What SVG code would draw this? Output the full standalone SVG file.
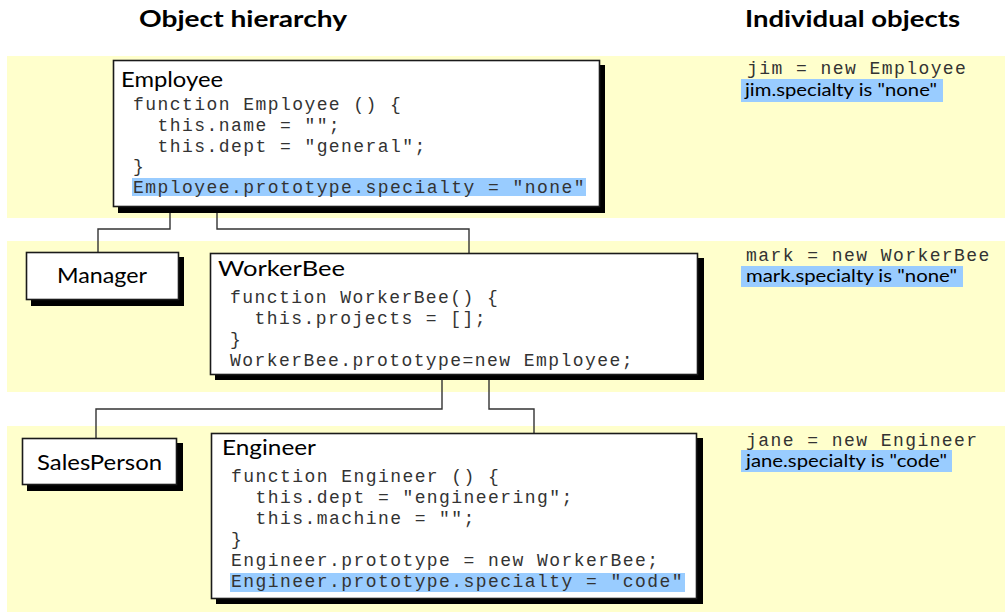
<svg xmlns="http://www.w3.org/2000/svg" width="1005" height="612" viewBox="0 0 1005 612">
<style>
.band{fill:#FFFFCC}
.box{fill:#FFFFFF;stroke:#1a1a1a;stroke-width:1.6}
.shadow{fill:#000000}
.hl{fill:#99CCFF}
.head{font-family:Lato,"Open Sans","Liberation Sans",sans-serif;font-weight:bold;font-size:22px;fill:#000}
.title{font-family:Lato,"Open Sans","Liberation Sans",sans-serif;font-size:21px;fill:#000}
.lbl{font-family:Lato,"Open Sans","Liberation Sans",sans-serif;font-size:18px;fill:#000}
.code{font-family:"Liberation Mono","DejaVu Sans Mono",monospace;font-size:18px;letter-spacing:1.44px;fill:#333}
.conn{fill:none;stroke:#333;stroke-width:1.4}
</style>
<rect width="1005" height="612" fill="#FFFFFF"/>
<g id="bands">
<rect class="band" x="7" y="56" width="998" height="162"/>
<rect class="band" x="7" y="241" width="998" height="151"/>
<rect class="band" x="7" y="426" width="998" height="186"/>
</g>
<g id="headers">
<text class="head" x="139" y="27" textLength="208" lengthAdjust="spacingAndGlyphs">Object hierarchy</text>
<text class="head" x="745" y="27" textLength="215" lengthAdjust="spacingAndGlyphs">Individual objects</text>
</g>
<g id="connectors">
<polyline class="conn" points="170,207 170,229 98,229 98,252"/>
<polyline class="conn" points="217,207 217,229 469,229 469,253"/>
<polyline class="conn" points="442,375 442,409 96,409 96,438"/>
<polyline class="conn" points="489,375 489,409 534,409 534,433"/>
</g>
<g id="employee">
<rect class="shadow" x="118" y="65" width="487" height="148"/>
<rect class="box" x="113.5" y="60.5" width="486" height="146"/>
<rect class="hl" x="132" y="178" width="454" height="18"/>
<text class="title" x="121" y="87" textLength="102" lengthAdjust="spacingAndGlyphs">Employee</text>
<text class="code" x="133" y="110" xml:space="preserve">function Employee () {</text>
<text class="code" x="133" y="131" xml:space="preserve">  this.name = "";</text>
<text class="code" x="133" y="152" xml:space="preserve">  this.dept = "general";</text>
<text class="code" x="133" y="172">}</text>
<text class="code" x="133" y="193" xml:space="preserve">Employee.prototype.specialty = "none"</text>
</g>
<g id="manager">
<rect class="shadow" x="31" y="257" width="153" height="49"/>
<rect class="box" x="26.5" y="252.5" width="152" height="47"/>
<text class="title" x="102" y="283" text-anchor="middle" textLength="90" lengthAdjust="spacingAndGlyphs">Manager</text>
</g>
<g id="workerbee">
<rect class="shadow" x="215" y="258" width="489" height="122"/>
<rect class="box" x="210.5" y="253.5" width="487" height="121"/>
<text class="title" x="218" y="276" textLength="127" lengthAdjust="spacingAndGlyphs">WorkerBee</text>
<text class="code" x="230" y="303" xml:space="preserve">function WorkerBee() {</text>
<text class="code" x="230" y="324" xml:space="preserve">  this.projects = [];</text>
<text class="code" x="230" y="345">}</text>
<text class="code" x="230" y="366" xml:space="preserve">WorkerBee.prototype=new Employee;</text>
</g>
<g id="salesperson">
<rect class="shadow" x="27" y="443" width="156" height="48"/>
<rect class="box" x="22.5" y="438.5" width="154" height="46"/>
<text class="title" x="99.5" y="470" text-anchor="middle" textLength="125" lengthAdjust="spacingAndGlyphs">SalesPerson</text>
</g>
<g id="engineer">
<rect class="shadow" x="216" y="438" width="487" height="166"/>
<rect class="box" x="211.5" y="433.5" width="485" height="165"/>
<rect class="hl" x="230" y="573" width="455" height="19"/>
<text class="title" x="222" y="455" textLength="94" lengthAdjust="spacingAndGlyphs">Engineer</text>
<text class="code" x="231" y="482" xml:space="preserve">function Engineer () {</text>
<text class="code" x="231" y="503" xml:space="preserve">  this.dept = "engineering";</text>
<text class="code" x="231" y="524" xml:space="preserve">  this.machine = "";</text>
<text class="code" x="231" y="545">}</text>
<text class="code" x="231" y="566" xml:space="preserve">Engineer.prototype = new WorkerBee;</text>
<text class="code" x="231" y="587" xml:space="preserve">Engineer.prototype.specialty = "code"</text>
</g>
<g id="jim">
<text class="code" x="747" y="74" xml:space="preserve">jim = new Employee</text>
<rect class="hl" x="741" y="79" width="202" height="23"/>
<text class="lbl" x="745" y="96" textLength="192" lengthAdjust="spacingAndGlyphs">jim.specialty is "none"</text>
</g>
<g id="mark">
<text class="code" x="746" y="261" xml:space="preserve">mark = new WorkerBee</text>
<rect class="hl" x="741" y="266" width="222" height="21"/>
<text class="lbl" x="746" y="282" textLength="211" lengthAdjust="spacingAndGlyphs">mark.specialty is "none"</text>
</g>
<g id="jane">
<text class="code" x="746" y="446" xml:space="preserve">jane = new Engineer</text>
<rect class="hl" x="741" y="450" width="211" height="22"/>
<text class="lbl" x="746" y="467" textLength="201" lengthAdjust="spacingAndGlyphs">jane.specialty is "code"</text>
</g>
</svg>
